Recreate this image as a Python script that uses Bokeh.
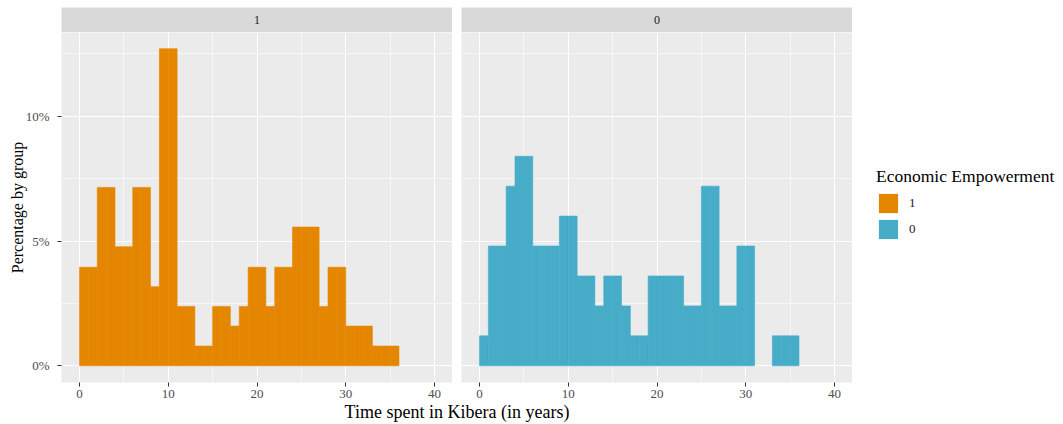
from bokeh.plotting import figure
from bokeh.models import (Range1d, FixedTicker, CustomJSTickFormatter, Legend, LegendItem,
                          Label, Spacer, ColumnDataSource, CDSView, BooleanFilter)
from bokeh.layouts import row, column
from bokeh.embed import file_html
from bokeh.resources import INLINE

# ---- data (percentage by group, 1-year bins) ----
bin_left = [0, 1, 2, 3, 4, 5, 6, 7, 8, 9, 10, 11, 12, 13, 14, 15, 16, 17,
            18, 19, 20, 21, 22, 23, 24, 25, 26, 27, 28, 29, 30, 31, 32, 33, 34, 35]
bin_width = 1
pct_group1 = [3.95, 3.95, 7.15, 7.15, 4.77, 4.77, 7.15, 7.15, 3.17, 12.71, 12.71, 2.38,
              2.38, 0.79, 0.79, 2.38, 2.38, 1.59, 2.38, 3.95, 3.95, 2.38, 3.95, 3.95,
              5.56, 5.56, 5.56, 2.38, 3.95, 3.95, 1.59, 1.59, 1.59, 0.79, 0.79, 0.79]
pct_group0 = [1.2, 4.8, 4.8, 7.2, 8.4, 8.4, 4.8, 4.8, 4.8, 6.0, 6.0, 3.6,
              3.6, 2.4, 3.6, 3.6, 2.4, 1.2, 1.2, 3.6, 3.6, 3.6, 3.6, 2.4,
              2.4, 7.2, 7.2, 2.4, 2.4, 4.8, 4.8, 0.0, 0.0, 1.2, 1.2, 1.2]
groups = ["1", "0"]
group_colors = ["#E58601", "#46ACC8"]
x_ticks = [0, 10, 20, 30, 40]
x_minor = [5, 15, 25, 35]
y_ticks = [0, 5, 10]
y_minor = [2.5, 7.5, 12.5]
x_title = "Time spent in Kibera (in years)"
y_title = "Percentage by group"
legend_title = "Economic Empowerment"

FONT = "Liberation Serif"
PANEL_BG = "#EBEBEB"
STRIP_BG = "#D9D9D9"

TOP = 7
STRIP_H = 25
FRAME_W = 391
FRAME_H = 350
LEFT_B = 61
GAP = 9
BOTTOM_B = 18
XT_H = 22
LEG_W = 203

x_rng = (-2.03, 42.03)
y_rng = (-0.67, 13.36)


def src_for(pcts):
    return ColumnDataSource(dict(left=bin_left, right=[b + bin_width for b in bin_left],
                                 top=pcts, bottom=[0] * len(pcts)))


def make_panel(pcts, color, with_yaxis):
    p = figure(output_backend="svg", toolbar_location=None,
               frame_width=FRAME_W, frame_height=FRAME_H,
               x_range=Range1d(*x_rng), y_range=Range1d(*y_rng),
               y_axis_location="left" if with_yaxis else None,
               min_border_left=LEFT_B if with_yaxis else GAP,
               min_border_right=0, min_border_top=0, min_border_bottom=BOTTOM_B)
    p.background_fill_color = PANEL_BG
    p.border_fill_color = "white"
    p.outline_line_color = None

    view = CDSView(filter=BooleanFilter([v > 0 for v in pcts]))
    p.quad(left="left", right="right", top="top", bottom="bottom", source=src_for(pcts),
           view=view, fill_color=color, line_color=color, line_width=0.6)

    xt_ = FixedTicker(ticks=x_ticks, minor_ticks=x_minor)
    yt_ = FixedTicker(ticks=y_ticks, minor_ticks=y_minor)
    p.xaxis.ticker = xt_
    p.xgrid.ticker = xt_
    p.ygrid.ticker = yt_
    if with_yaxis:
        p.yaxis.ticker = yt_
    for g in (p.xgrid, p.ygrid):
        g.grid_line_color = "white"
        g.grid_line_width = 1.1
        g.minor_grid_line_color = "white"
        g.minor_grid_line_width = 0.55
    for ax in p.axis:
        ax.axis_line_color = None
        ax.major_tick_line_color = "#333333"
        ax.major_tick_out = 4
        ax.major_tick_in = 0
        ax.minor_tick_out = 0
        ax.minor_tick_in = 0
        ax.major_label_text_font = FONT
        ax.major_label_text_font_size = "13px"
        ax.major_label_text_color = "#4D4D4D"
        ax.major_label_standoff = 3
    if with_yaxis:
        p.yaxis.formatter = CustomJSTickFormatter(code="return tick.toFixed(0) + '%';")
        p.yaxis.major_label_standoff = 8
        p.yaxis.axis_label = y_title
        p.yaxis.axis_label_text_font = FONT
        p.yaxis.axis_label_text_font_size = "16px"
        p.yaxis.axis_label_text_font_style = "normal"
        p.yaxis.axis_label_text_color = "#000000"
        p.yaxis.axis_label_standoff = -3
    return p


def make_strip(text):
    s = figure(output_backend="svg", toolbar_location=None,
               width=FRAME_W, height=STRIP_H, x_range=Range1d(0, 1), y_range=Range1d(0, 1),
               min_border=0, x_axis_location=None, y_axis_location=None)
    s.background_fill_color = STRIP_BG
    s.outline_line_color = None
    s.grid.visible = False
    s.add_layout(Label(x=0.5, y=0.5, text=text, text_align="center", text_baseline="middle",
                       text_font=FONT, text_font_size="12px", text_color="#1A1A1A"))
    return s


p1 = make_panel(pct_group1, group_colors[0], True)
p2 = make_panel(pct_group0, group_colors[1], False)

s1 = make_strip(groups[0])
s2 = make_strip(groups[1])

# legend figure (its ranges keep the histogram renderers out of view; only the legend shows)
lf = figure(output_backend="svg", toolbar_location=None, width=LEG_W, height=FRAME_H + BOTTOM_B,
            x_range=Range1d(-300, -299), y_range=Range1d(-300, -299), min_border=0,
            x_axis_location=None, y_axis_location=None)
lf.outline_line_color = None
lf.grid.visible = False
r1 = lf.quad(left="left", right="right", top="top", bottom="bottom", source=src_for(pct_group1),
             fill_color=group_colors[0], line_color=None)
r0 = lf.quad(left="left", right="right", top="top", bottom="bottom", source=src_for(pct_group0),
             fill_color=group_colors[1], line_color=None)
leg = Legend(items=[LegendItem(label=groups[0], renderers=[r1]),
                    LegendItem(label=groups[1], renderers=[r0])],
             location=(24, 141), title=legend_title,
             title_text_font=FONT, title_text_font_size="17.5px", title_text_font_style="normal",
             title_text_color="#000000", title_standoff=4,
             label_text_font=FONT, label_text_font_size="13px", label_text_color="#1A1A1A",
             glyph_width=24, glyph_height=24, spacing=2, label_standoff=9,
             padding=0, margin=0, border_line_color=None, background_fill_alpha=0)
lf.add_layout(leg, "center")

# x-axis title figure
xt = figure(output_backend="svg", toolbar_location=None, width=2 * FRAME_W + GAP, height=XT_H,
            x_range=Range1d(0, 1), y_range=Range1d(0, XT_H), min_border=0,
            x_axis_location=None, y_axis_location=None)
xt.outline_line_color = None
xt.grid.visible = False
xt.add_layout(Label(x=0.5, y=XT_H - 11, text=x_title, text_align="center", text_baseline="middle",
                    text_font=FONT, text_font_size="18px", text_color="#000000"))

layout = column(
    Spacer(width=10, height=TOP),
    row(Spacer(width=LEFT_B, height=STRIP_H), s1, Spacer(width=GAP, height=STRIP_H), s2),
    row(p1, p2, lf),
    row(Spacer(width=LEFT_B, height=XT_H), xt),
)

open("out.html", "w").write(file_html(layout, INLINE))
